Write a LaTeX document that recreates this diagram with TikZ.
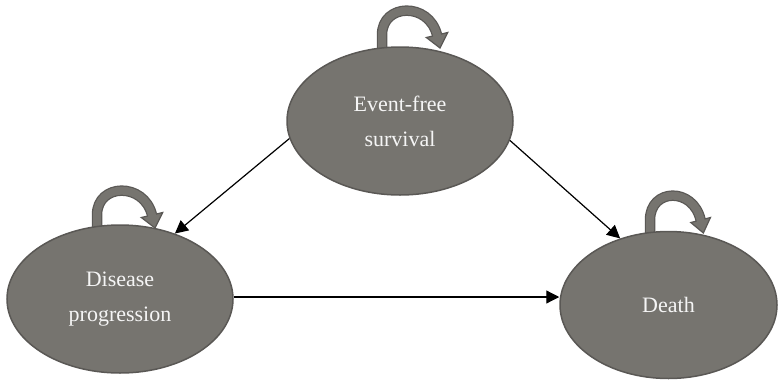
\documentclass[tikz,border=0pt]{standalone}
\usepackage{fontspec}
\setmainfont{Liberation Serif}
\usetikzlibrary{arrows.meta,shapes.geometric,calc}
\definecolor{stfill}{RGB}{118,116,111}
\definecolor{stline}{RGB}{90,88,85}
\definecolor{sttext}{RGB}{245,245,245}
\tikzset{
 state/.style={ellipse, fill=stfill, draw=stline, line width=1.5pt, minimum width=226pt, minimum height=148pt, inner sep=0pt, align=center, text=sttext, font=\fontsize{22}{35}\selectfont},
 trans/.style={draw=black, line width=1.2pt, -{Triangle[length=13pt,width=13pt]}},
 selfloop/.pic={
   \draw[stline, line width=10.5pt] (0,6) -- (0,-12) .. controls (0,-44) and (47,-45) .. (55,-12);
   \filldraw[fill=stfill, draw=stline, line width=1.2pt] (44.3,-9.5) -- (58,1) -- (65.7,-14.5) -- cycle;
   \draw[stfill, line width=8pt] (0,6) -- (0,-12) .. controls (0,-44) and (47,-45) .. (55,-12) -- (55.4,-10.2);
 }
}
\begin{document}
\begin{tikzpicture}[x=1pt,y=-1pt]
\useasboundingbox (0,0) rectangle (778,383);
\pic at (382,47) {selfloop};
\pic at (97,227) {selfloop};
\pic[xscale=0.92] at (650,232) {selfloop};
\node[state] (ev) at (400,121) {Event-free\\survival};
\node[state] (dp) at (120,299) {Disease\\progression};
\node[state, minimum width=217pt, minimum height=147pt] (de) at (668.5,305) {Death};
\draw[trans] (ev.189) -- (dp.50);
\draw[trans] (ev.350) -- (de.126);
\draw[trans] (dp.east |- 0,297) -- (de.west |- 0,297);
\end{tikzpicture}
\end{document}
